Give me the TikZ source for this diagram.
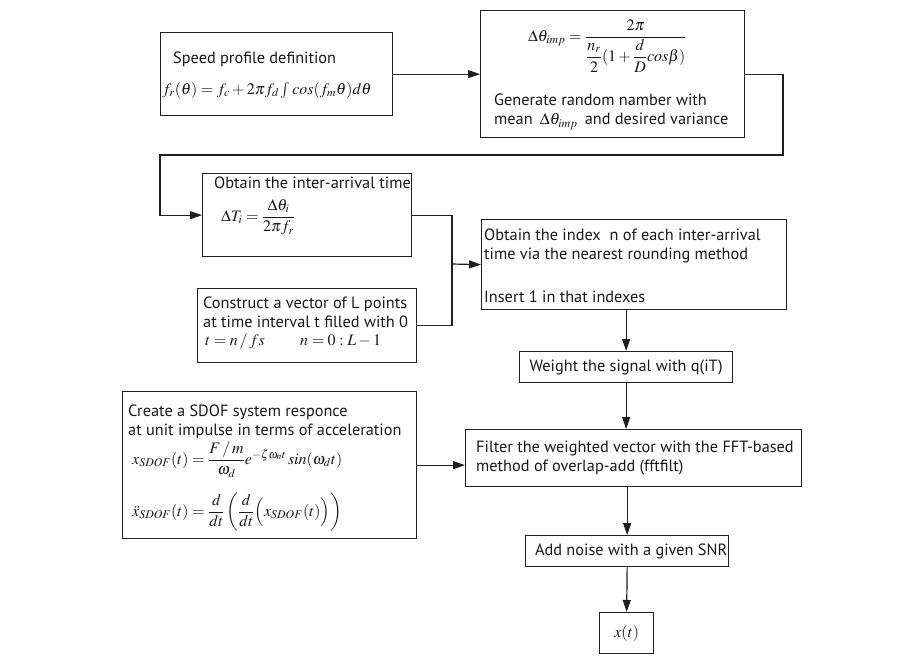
\documentclass[tikz,border=0pt]{standalone}
\usepackage{amsmath}
\usepackage{mathptmx}
\usepackage[no-math]{fontspec}
\setmainfont{PT Sans}
\usetikzlibrary{arrows.meta}
\begin{document}
\begin{tikzpicture}[x=1pt,y=-1pt,
  box/.style={draw=black!88, line width=1.3pt, inner sep=0pt, anchor=north west},
  tx/.style={anchor=west, inner sep=0pt, align=left, font=\fontsize{16.3}{19.5}\selectfont, text=black!90},
  mx/.style={anchor=base west, inner sep=0pt, font=\fontsize{16}{19}\selectfont, text=black!90},
  ln/.style={draw=black!88, line width=1.2pt},
  arr/.style={ln, -{Triangle[length=12pt,width=8pt]}}]
\fill[white] (0,0) rectangle (913,667);
\useasboundingbox (0,0) rectangle (913,667);
% boxes
\node[box,minimum width=232pt,minimum height=83pt] (b1) at (160,32) {};
\node[box,minimum width=264pt,minimum height=127pt] (b2) at (480,10) {};
\node[box,minimum width=209pt,minimum height=83pt] (b3) at (202,173) {};
\node[box,minimum width=219pt,minimum height=74pt] (b4) at (197,288) {};
\node[box,minimum width=305pt,minimum height=90pt] (b5) at (481,219) {};
\node[box,minimum width=213pt,minimum height=31pt] (b6) at (519,351) {};
\node[box,minimum width=336pt,minimum height=57pt] (b7) at (465,429) {};
\node[box,minimum width=294pt,minimum height=147pt] (b8) at (122,391) {};
\node[box,minimum width=203pt,minimum height=31pt] (b9) at (525,535) {};
\node[box,minimum width=54pt,minimum height=41pt] (b10) at (599,612) {};
% texts
\node[tx] (t1a) at (173,59) {Speed profile definition};
\node[mx] (t1b) at (162,94) {$f_r(\theta)=f_c+2\pi f_d\int cos(f_m\theta)d\theta$};
\node[mx] (t2a) at (528,41) {$\Delta\theta_{imp}=\dfrac{2\pi}{\dfrac{n_r}{2}(1+\dfrac{d}{D}cos\beta)}$};
\node[tx] (t2b) at (494,111.5) {Generate random namber with\\mean \,$\Delta\theta_{imp}$\, and desired variance};
\node[tx] (t3a) at (214,183) {Obtain the inter-arrival time};
\node[mx] (t3b) at (221,221) {$\Delta T_i=\dfrac{\Delta\theta_i}{2\pi f_r}$};
\node[tx] (t4a) at (203,312.5) {Construct a vector of L points\\at time interval t filled with 0};
\node[mx] (t4c) at (205,345) {$t=n\,/\,fs$};
\node[mx] (t4d) at (300,345) {$n=0:L-1$};
\node[tx] (t5a) at (484,246) {Obtain the index \;n of each inter-arrival\\time via the nearest rounding method};
\node[tx] (t5c) at (484,297) {Insert 1 in that indexes};
\node[tx,anchor=center] (t6) at (b6.center) {Weight the signal with q(iT)};
\node[tx] (t7a) at (476,458) {Filter the weighted vector with the FFT-based\\method of overlap-add (fftfilt)};
\node[tx] (t8a) at (128,422) {Create a SDOF system responce\\at unit impulse in terms of acceleration};
\node[mx] (t8c) at (132,464) {$x_{SDOF}(t)=\dfrac{F\,/\,m}{\omega_d}e^{-\zeta\omega_n t}\,sin(\omega_d t)$};
\node[mx] (t8d) at (132,516) {$\ddot{x}_{SDOF}(t)=\dfrac{d}{dt}\left(\dfrac{d}{dt}\Big(x_{SDOF}(t)\Big)\right)$};
\node[tx,anchor=center] (t9) at ([xshift=4pt]b9.center) {Add noise with a given SNR};
\node[mx,anchor=center] (t10) at (b10.center) {$x(t)$};
% connectors
\coordinate (r1) at (783,155);
\coordinate (l1) at (160,155);
\coordinate (j1) at (452,264);
\draw[arr] (b1.east) -- (b2.west);
\draw[arr] (b2.east) -| (r1) -- (l1) |- (b3.west);
\draw[ln] (b3.east) -| (j1);
\draw[ln] (b4.east) -| (j1);
\draw[arr] (j1) -- (b5.west);
\draw[arr] (b6.north |- b5.south) -- (b6.north);
\draw[arr] (b6.south) -- (b6.south |- b7.north);
\draw[arr] (b8.east) -- (b8.east -| b7.west);
\draw[arr] (b9.north |- b7.south) -- (b9.north);
\draw[arr] (b9.south) -- (b10.north);
\end{tikzpicture}
\end{document}
